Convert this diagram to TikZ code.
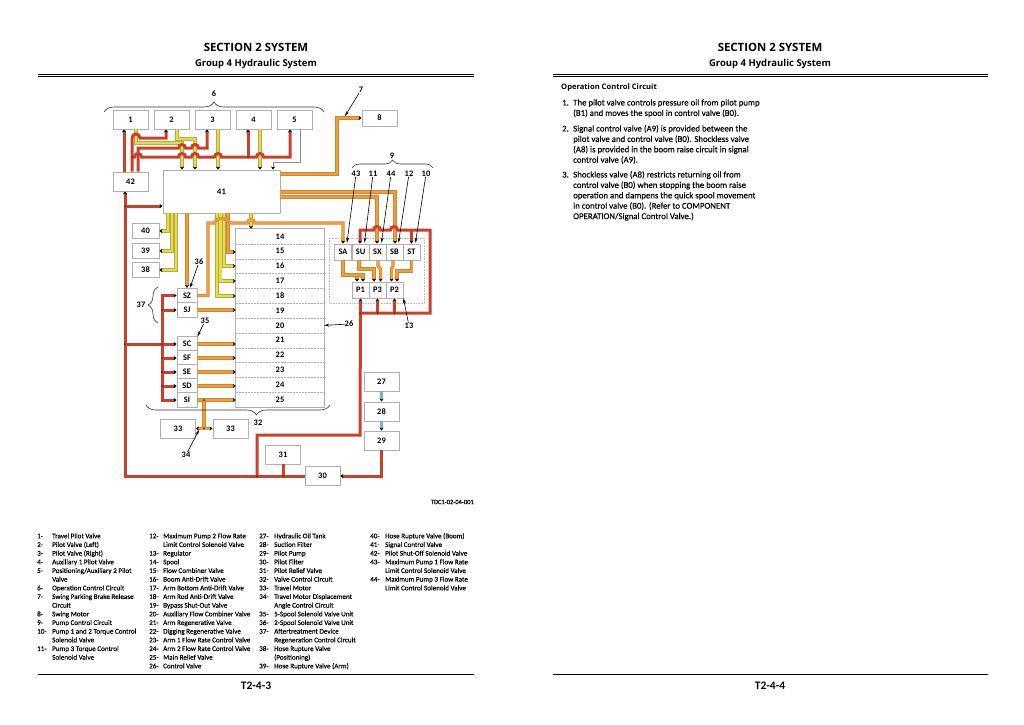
\documentclass[tikz,border=0pt]{standalone}
\usepackage{fontspec}
\setmainfont{Carlito}
\newfontfamily\medfont[FakeBold=0.25]{Carlito}
\newfontfamily\headfont{Open Sans}
\usetikzlibrary{arrows.meta,decorations.pathreplacing}
\definecolor{pipered}{HTML}{C9402E}
\definecolor{pipeorange}{HTML}{D4852C}
\definecolor{coreorange}{HTML}{E8A040}
\definecolor{pipeyellow}{HTML}{E8DA4A}
\definecolor{edgeyellow}{HTML}{B5AC45}
\definecolor{pipeblue}{HTML}{6FB2D8}
\definecolor{boxedge}{HTML}{B0B0B0}
\tikzset{
  box/.style={draw=boxedge,line width=.8pt,fill=white,inner sep=0pt,font=\fontsize{8.4}{9}\selectfont\bfseries},
  bigbox/.style={box,minimum width=35pt,minimum height=19pt},
  lowbox/.style={box,minimum width=35pt,minimum height=16pt},
  smallbox/.style={box,minimum width=27pt,minimum height=14.5pt},
  solbox/.style={box,minimum width=20pt,minimum height=14.4pt},
  pumpbox/.style={box,minimum width=17.2pt,minimum height=16pt},
  rowbox/.style={inner sep=0pt,minimum width=88pt,minimum height=14.83pt,font=\fontsize{8.4}{9}\selectfont\bfseries},
  tag/.style={inner sep=0pt,font=\fontsize{8.4}{9}\selectfont\bfseries},
  redpipe/.style={draw=pipered,line width=3pt},
  orangepipe/.style={draw=pipeorange,line width=.6pt,double=coreorange,double distance=2pt},
  yellowpipe/.style={draw=edgeyellow,line width=.5pt,double=pipeyellow,double distance=2.2pt},
  bluepipe/.style={draw=pipeblue,line width=2.4pt},
  leader/.style={-{Stealth[length=5pt,width=3pt]},line width=.6pt},
  curly/.style={decorate,line width=.6pt,draw=black!80},
  dot/.style={fill=black!80},
  legend/.style={anchor=north west,inner sep=0pt,font=\medfont\fontsize{7.1}{8.67}\selectfont},
  bodytext/.style={anchor=north west,inner sep=0pt,font=\medfont\fontsize{8.8}{10.4}\selectfont},
  heading/.style={font=\headfont\bfseries\fontsize{11.4}{13}\selectfont},
  subheading/.style={font=\headfont\bfseries\fontsize{9.5}{11}\selectfont},
  pageno/.style={font=\fontsize{11.5}{13}\selectfont\bfseries}
}
\newcommand{\hop}{arc[start angle=180,end angle=360,radius=3.5]}
\newcommand{\hopback}{arc[start angle=0,end angle=-180,radius=3.5]}
\begin{document}
\begin{tikzpicture}[x=1pt,y=-1pt,>={Stealth[length=3pt,width=4pt,black]}]
\useasboundingbox (0,0) rectangle (1024,724);
\node[heading] (head1) at (256,47) {SECTION 2 SYSTEM};
\node[subheading] (sub1) at (256,64) {Group 4 Hydraulic System};
\node[heading] (head2) at (770,47) {SECTION 2 SYSTEM};
\node[subheading] (sub2) at (770,64) {Group 4 Hydraulic System};
\foreach \a/\b in {38/474,553/988}{
\draw[line width=.5pt] (\a,74) -- (\b,74);
\draw[line width=1.1pt] (\a,76.2) -- (\b,76.2);
\draw[line width=.9pt] (\a,674) -- (\b,674);}
\node[pageno] (foot1) at (256,686) {T2-4-3};
\node[pageno] (foot2) at (770,686) {T2-4-4};
\node[font=\medfont\fontsize{6.5}{8}\selectfont,anchor=east,inner sep=0pt] (tdc) at (474,502) {TDC1-02-04-001};
% boxes
\foreach \n/\x in {1/130.5,2/171.5,3/212.5,4/253.5,5/294.5}
  \node[bigbox] (n\n) at (\x,119.5) {\n};
\node[bigbox] (n42) at (130.5,181.5) {42};
\node[box,minimum width=117pt,minimum height=43pt] (n41) at (221.5,191.5) {41};
\node[lowbox] (n8) at (379.5,118) {8};
\foreach \n/\y in {40/231,39/251,38/270}
  \node[smallbox] (n\n) at (145.5,\y) {\n};
\foreach \n [count=\i from 0] in {14,...,25}
  \node[rowbox] (r\n) at (280,236.4+14.83*\i) {\n};
\draw[draw=boxedge,line width=.8pt] (r14.north west) rectangle (r25.south east);
\foreach \n in {14,...,24}
  \draw[black!30,densely dotted,line width=.5pt] (r\n.south west) -- (r\n.south east);
\node[solbox] (SZ) at (187,295.5) {SZ};
\node[solbox] (SJ) at (187,310) {SJ};
\foreach \n/\y in {SC/344,SF/358,SE/372,SD/386,SI/400}
  \node[solbox] (\n) at (187,\y) {\n};
\node[bigbox] (n33a) at (178,428.5) {33};
\node[bigbox] (n33b) at (230.5,428.5) {33};
\node[bigbox] (n27) at (381.5,381.5) {27};
\node[bigbox] (n28) at (381.5,411.5) {28};
\node[bigbox] (n29) at (381.5,440.5) {29};
\node[bigbox] (n31) at (283,454.5) {31};
\node[bigbox] (n30) at (322.5,476) {30};
\draw[black!25,densely dotted,line width=.6pt] (329,238) rectangle (424,303);
\foreach \n/\x in {SA/343,SU/360.5,SX/377.5,SB/394.5,ST/411.5}
  \node[pumpbox] (\n) at (\x,252) {\n};
\foreach \n/\x in {P1/360.5,P3/377.5,P2/394.5}
  \node[pumpbox] (\n) at (\x,290) {\n};
% yellow pipes
\draw[yellowpipe,->] (n1.south -| 136,0) -- (136,143) -- (182,143) -- (n41.north -| 182,0);
\draw[yellowpipe,->] (n2.south -| 177,0) -- (177,139) -- (195,139) -- (n41.north -| 195,0);
\draw[yellowpipe,->] (n3.south -| 218,0) -- (n41.north -| 218,0);
\draw[yellowpipe,->] (n4.south -| 260,0) -- (n41.north -| 260,0);
\draw[yellowpipe,->] (n41.south -| 168,0) -- (168,231) -- (n40.east);
\draw[yellowpipe,->] (n41.south -| 172,0) -- (172,251) -- (n39.east);
\draw[yellowpipe,->] (n41.south -| 176,0) -- (176,270) -- (n38.east);
\draw[yellowpipe,->] (n41.south -| 217,0) -- (217,296) -- (r18.west |- 0,296);
\draw[yellowpipe,->] (n41.south -| 220.5,0) -- (220.5,281) -- (r17.west |- 0,281);
\draw[yellowpipe,->] (n41.south -| 224,0) -- (224,266) -- (r16.west |- 0,266);
\draw[yellowpipe,->] (n41.south -| 251,0) -- (r14.north -| 251,0);
% orange pipes
\draw[orangepipe,->] (n41.east |- 0,174) -- (337,174) -- (337,118) -- (n8.west);
\draw[orangepipe,->] (n41.east |- 0,192) -- (395,192) -- (SB.north -| 395,0);
\draw[orangepipe,->] (n41.east |- 0,197) -- (377,197) -- (SX.north -| 377,0);
\draw[orangepipe,->] (n41.south -| 187,0) -- (SZ.north);
\draw[orangepipe,->] (n41.south -| 228,0) -- (228,252) -- (r15.west |- 0,252);
\draw[orangepipe,->] (SZ.east) -- (208,295.5) -- (208,223) -- (214,223) .. controls (216,217) and (227,217) .. (230,223) -- (247.5,223) \hop -- (343,223) -- (SA.north);
\foreach \s/\r in {SJ/19,SC/21,SF/22,SE/23,SD/24,SI/25}
  \draw[orangepipe,->] (\s.east) -- (\s.east -| r\r.west);
\coordinate (jSI) at (204,400);
\draw[orangepipe] (jSI) -- (204,428.5);
\draw[orangepipe,<->] (n33a.east) -- (n33b.west);
\draw[orangepipe,->] (SA.south) -- (343,275) -- (357,275) -- (P1.north -| 357,0);
\draw[orangepipe,->] (357,275) -- (363,275) -- (P1.north -| 363,0);
\draw[orangepipe,->] (SU.south -| 359,0) -- (359,269) -- (374,269) -- (P3.north -| 374,0);
\draw[orangepipe,->] (SX.south -| 378,0) -- (378,266) -- (380.5,269) -- (P3.north -| 380.5,0);
\draw[orangepipe,->] (SB.south -| 393,0) -- (393,266) -- (391.5,269) -- (P2.north -| 391.5,0);
\draw[orangepipe,->] (ST.south) -- (411.5,271) -- (397,271) -- (P2.north -| 397,0);
% red pipes
\coordinate (jTop) at (132,157);
\coordinate (jSC) at (125,344);
\coordinate (jBot) at (257,476);
\coordinate (jLoop) at (360,313);
\draw[redpipe,->] (n42.north -| 124,0) -- (n1.south -| 124,0);
\draw[redpipe,->] (n42.north -| 132,0) -- (132,138) arc[start angle=180,end angle=360,radius=4] -- (166,138) -- (n2.south -| 166,0);
\draw[redpipe,->] (n42.north -| 138,0) -- (138,148) -- (178.5,148) \hop -- (191.5,148) \hop -- (207,148) -- (n3.south -| 207,0);
\draw[redpipe,->] (jTop) -- (134.5,157) \hop -- (178.5,157) \hop -- (191.5,157) \hop -- (214.5,157) \hop -- (256.5,157) \hop -- (290,157) -- (n5.south -| 290,0);
\draw[redpipe,->] (248,157) -- (n4.south -| 248,0);
\draw[redpipe,->] (n30.west) -- (125,476) -- (n42.south -| 125,0);
\draw[redpipe,->] (125,206) -- (n41.west |- 0,206);
\draw[redpipe,->] (jSC) -- (SC.west);
\draw[redpipe,<->] (SZ.west) -- (162,295.5) -- (162,400) -- (SI.west);
\foreach \s in {SJ,SF,SE,SD}
  \draw[redpipe,->] (\s.west -| 162,0) -- (\s.west);
\draw[redpipe,->] (n29.south) -- (n29.south |- n30.east) -- (n30.east);
\draw[redpipe] (n31.south) -- (n31.south |- jBot);
\draw[redpipe,->] (jBot) -- (257,435) -- (360,435) -- (P1.south);
\draw[redpipe,->] (jLoop) -- (430,313) -- (430,230) -- (397.5,230) \hopback -- (380.5,230) \hopback -- (360,230) -- (SU.north -| 360,0);
\draw[redpipe,->] (377.5,313) -- (P3.south);
\draw[redpipe,->] (394.5,313) -- (P2.south);
\draw[redpipe,->] (ST.north |- 0,230) -- (ST.north);
\foreach \x/\y in {132/157,248/157,125/206,125/344,162/310,162/344,162/358,162/372,162/386,257/476,283/476,360/313,377.5/313,394.5/313,204/400,204/428.5}
  \fill[dot] (\x,\y) circle (1pt);
% other pipes
\draw[black!45,line width=.7pt,->] (n5.south -| 300,0) -- (300,162) -- (273,162) -- (n41.north -| 273,0);
\draw[bluepipe,->] (n27) -- (n28);
\draw[bluepipe,->] (n28) -- (n29);
% braces and labels
\draw[curly,decoration={brace,amplitude=10pt}] (104,112) -- (324,112);
\draw[curly,decoration={brace,amplitude=8pt}] (352,168) -- (433,168);
\draw[curly,decoration={brace,mirror,amplitude=10pt,aspect=.6}] (146,405) -- (330,405);
\draw[curly,decoration={brace,amplitude=10pt}] (158,323) -- (158,287);
\node[tag] (l6) at (214,94) {6};
\node[tag] (l9) at (392,156) {9};
\node[tag] (l32) at (258,423) {32};
\node[tag] (l37) at (141,305) {37};
\node[tag] (l7) at (361,90) {7};
\coordinate (c7) at (345,116);
\draw[leader] (l7) -- (c7);
\foreach \n/\x/\t in {43/356/SA,11/373/SU,44/391/SX,12/409/SB,10/426/ST}{
\node[tag] (l\n) at (\x,174) {\n};
\draw[leader] (l\n) -- ([xshift=4pt,yshift=1pt]\t.north);}
\node[tag] (l13) at (409,326) {13};
\draw[leader] (l13) -- (P2.south east);
\node[tag] (l26) at (349,324) {26};
\draw[leader] (l26) -- (r20.east);
\node[tag] (l36) at (199,262) {36};
\draw[leader] (l36) -- ([xshift=3pt]SZ.north);
\node[tag] (l35) at (205,321) {35};
\draw[leader] (l35) -- (SC.north east);
\node[tag] (l34) at (186,455) {34};
\coordinate (c34) at (199,430);
\draw[leader] (l34) -- (c34);
% legend
\node[legend] (col1) at (37,532) {\begin{tabular}{@{}p{15pt}@{}l@{}}
1-&Travel Pilot Valve\\
2-&Pilot Valve (Left)\\
3-&Pilot Valve (Right)\\
4-&Auxiliary 1 Pilot Valve\\
5-&Positioning/Auxiliary 2 Pilot\\
&Valve\\
6-&Operation Control Circuit\\
7-&Swing Parking Brake Release\\
&Circuit\\
8-&Swing Motor\\
9-&Pump Control Circuit\\
10-&Pump 1 and 2 Torque Control\\
&Solenoid Valve\\
11-&Pump 3 Torque Control\\
&Solenoid Valve
\end{tabular}};
\node[legend] (col2) at (149,532) {\begin{tabular}{@{}p{14pt}@{}l@{}}
12-&Maximum Pump 2 Flow Rate\\
&Limit Control Solenoid Valve\\
13-&Regulator\\
14-&Spool\\
15-&Flow Combiner Valve\\
16-&Boom Anti-Drift Valve\\
17-&Arm Bottom Anti-Drift Valve\\
18-&Arm Rod Anti-Drift Valve\\
19-&Bypass Shut-Out Valve\\
20-&Auxiliary Flow Combiner Valve\\
21-&Arm Regenerative Valve\\
22-&Digging Regenerative Valve\\
23-&Arm 1 Flow Rate Control Valve\\
24-&Arm 2 Flow Rate Control Valve\\
25-&Main Relief Valve\\
26-&Control Valve
\end{tabular}};
\node[legend] (col3) at (259,532) {\begin{tabular}{@{}p{15pt}@{}l@{}}
27-&Hydraulic Oil Tank\\
28-&Suction Filter\\
29-&Pilot Pump\\
30-&Pilot Filter\\
31-&Pilot Relief Valve\\
32-&Valve Control Circuit\\
33-&Travel Motor\\
34-&Travel Motor Displacement\\
&Angle Control Circuit\\
35-&5-Spool Solenoid Valve Unit\\
36-&2-Spool Solenoid Valve Unit\\
37-&Aftertreatment Device\\
&Regeneration Control Circuit\\
38-&Hose Rupture Valve\\
&(Positioning)\\
39-&Hose Rupture Valve (Arm)
\end{tabular}};
\node[legend] (col4) at (370,532) {\begin{tabular}{@{}p{15pt}@{}l@{}}
40-&Hose Rupture Valve (Boom)\\
41-&Signal Control Valve\\
42-&Pilot Shut-Off Solenoid Valve\\
43-&Maximum Pump 1 Flow Rate\\
&Limit Control Solenoid Valve\\
44-&Maximum Pump 3 Flow Rate\\
&Limit Control Solenoid Valve
\end{tabular}};
% right page
\node[anchor=west,inner sep=0pt,font=\headfont\bfseries\fontsize{7.6}{10}\selectfont] (title) at (561,88) {Operation Control Circuit};
\node[bodytext] (item1) at (562,98) {\begin{tabular}{@{}p{11pt}@{}l@{}}
1.&The pilot valve controls pressure oil from pilot pump\\
&(B1) and moves the spool in control valve (B0).
\end{tabular}};
\node[bodytext] (item2) at (562,124) {\begin{tabular}{@{}p{11pt}@{}l@{}}
2.&Signal control valve (A9) is provided between the\\
&pilot valve and control valve (B0). Shockless valve\\
&(A8) is provided in the boom raise circuit in signal\\
&control valve (A9).
\end{tabular}};
\node[bodytext] (item3) at (562,170) {\begin{tabular}{@{}p{11pt}@{}l@{}}
3.&Shockless valve (A8) restricts returning oil from\\
&control valve (B0) when stopping the boom raise\\
&operation and dampens the quick spool movement\\
&in control valve (B0). (Refer to COMPONENT\\
&OPERATION/Signal Control Valve.)
\end{tabular}};
\end{tikzpicture}
\end{document}
